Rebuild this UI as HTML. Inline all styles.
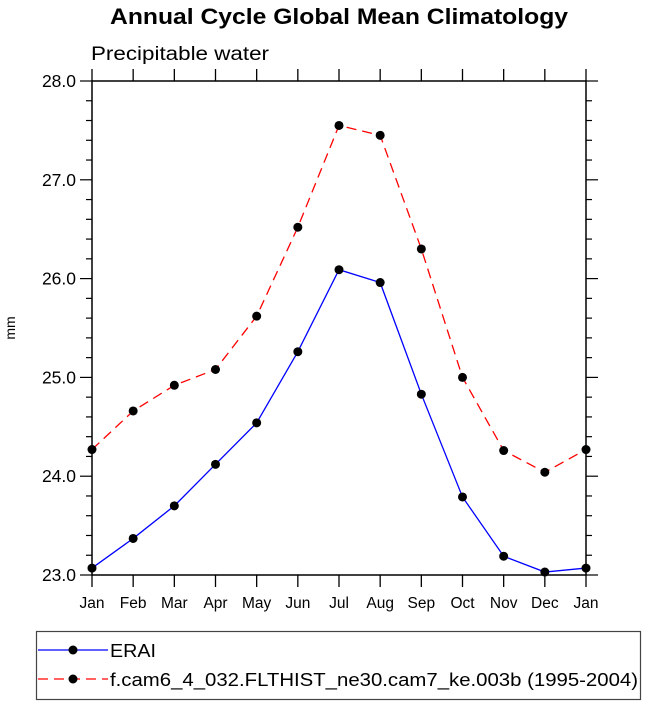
<!DOCTYPE html>
<html><head><meta charset="utf-8"><style>
body{margin:0;background:#fff}
svg{display:block;font-family:"Liberation Sans",Arial,sans-serif}
</style></head><body>
<svg id="chart" width="648" height="703" viewBox="0 0 648 703">
<text x="110" y="24" font-size="22" font-weight="bold" textLength="458" lengthAdjust="spacingAndGlyphs">Annual Cycle Global Mean Climatology</text>
<text x="91" y="60" font-size="19" textLength="178" lengthAdjust="spacingAndGlyphs">Precipitable water</text>
<text x="15" y="328" font-size="14" text-anchor="middle" transform="rotate(-90 15 328)">mm</text>
<g id="axes"></g>
<g id="series"></g>
<g>
<rect x="36.5" y="631.5" width="604" height="68" fill="none" stroke="#444" stroke-width="1.2"/>
<line x1="38" y1="650" x2="108" y2="650" stroke="#0000ff" stroke-width="1.3"/>
<circle cx="73" cy="650" r="4.5" fill="#000"/>
<text x="110" y="657" font-size="18" textLength="46" lengthAdjust="spacingAndGlyphs">ERAI</text>
<line x1="38" y1="679" x2="108" y2="679" stroke="#ff0000" stroke-width="1.3" stroke-dasharray="10,6"/>
<circle cx="73" cy="679" r="4.5" fill="#000"/>
<text x="110" y="686" font-size="18" textLength="528" lengthAdjust="spacingAndGlyphs">f.cam6_4_032.FLTHIST_ne30.cam7_ke.003b (1995-2004)</text>
</g>
</svg>
<script>
const months=["Jan","Feb","Mar","Apr","May","Jun","Jul","Aug","Sep","Oct","Nov","Dec","Jan"];
const erai=[23.07,23.37,23.70,24.12,24.54,25.26,26.09,25.96,24.83,23.79,23.19,23.03,23.07];
const model=[24.27,24.66,24.92,25.08,25.62,26.52,27.55,27.45,26.30,25.00,24.26,24.04,24.27];
const yTicks=[23.0,24.0,25.0,26.0,27.0,28.0];
const NS="http://www.w3.org/2000/svg";
const L=92,R=586,T=81,B=575,ymin=23,ymax=28;
const xs=i=>L+(R-L)*i/(months.length-1);
const ys=v=>B-(B-T)*(v-ymin)/(ymax-ymin);
function mk(tag,attrs,parent){const e=document.createElementNS(NS,tag);for(const k in attrs)e.setAttribute(k,attrs[k]);parent.appendChild(e);return e;}
const ax=document.getElementById('axes');
const frame=mk('rect',{x:L,y:T,width:R-L,height:B-T,fill:'none',stroke:'#000','stroke-width':1.5},ax);


months.forEach((m,i)=>{const x=xs(i);
mk('line',{x1:x,y1:B,x2:x,y2:B+12,stroke:'#000','stroke-width':1.3},ax);
mk('line',{x1:x,y1:T,x2:x,y2:T-12,stroke:'#000','stroke-width':1.3},ax);
const t=mk('text',{x:x,y:B+33,'text-anchor':'middle','font-size':15.5},ax);t.textContent=m;

});
for(let v=ymin;v<=ymax+1e-9;v+=0.2){const y=ys(v);const major=Math.abs(v-Math.round(v))<1e-6;const len=major?12:6;
mk('line',{x1:L,y1:y,x2:L-len,y2:y,stroke:'#000','stroke-width':1.2},ax);
mk('line',{x1:R,y1:y,x2:R+len,y2:y,stroke:'#000','stroke-width':1.2},ax);}
yTicks.forEach(v=>{const t=mk('text',{x:L-16,y:ys(v)+6,'text-anchor':'end','font-size':17.5},ax);t.textContent=v.toFixed(1);

});
const sg=document.getElementById('series');
function draw(arr,color,dash,name){
const p=mk('polyline',{points:arr.map((v,i)=>xs(i)+','+ys(v)).join(' '),fill:'none',stroke:color,'stroke-width':1.3,'stroke-dasharray':dash},sg);


arr.forEach((v,i)=>{const c=mk('circle',{cx:xs(i),cy:ys(v),r:4.5,fill:'#000'},sg);

});}
draw(model,'#ff0000','10,6','model');
draw(erai,'#0000ff','none','erai');
</script>
</body></html>
